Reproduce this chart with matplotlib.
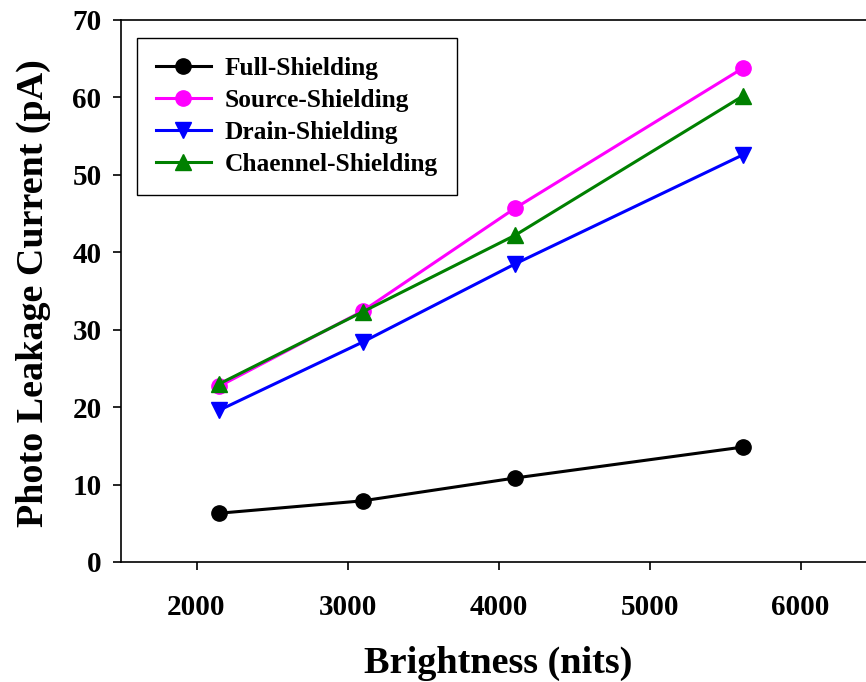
import matplotlib
matplotlib.use("Agg")
import matplotlib.pyplot as plt

plt.rcParams['font.family'] = ['Liberation Serif', 'DejaVu Serif']
plt.rcParams['font.weight'] = 'bold'

brightness = [2150, 3100, 4110, 5620]
full_shielding = [6.3, 7.9, 10.85, 14.85]
source_shielding = [22.7, 32.4, 45.7, 63.8]
drain_shielding = [19.6, 28.4, 38.5, 52.6]
channel_shielding = [23.0, 32.3, 42.2, 60.2]

series = [
    ("Full-Shielding", full_shielding, "black", "o"),
    ("Source-Shielding", source_shielding, "#ff00ff", "o"),
    ("Drain-Shielding", drain_shielding, "blue", "v"),
    ("Chaennel-Shielding", channel_shielding, "green", "^"),
]

W, H = 866, 682
fig = plt.figure(figsize=(W / 100, H / 100), dpi=100)
ax = fig.add_axes([121 / W, (H - 562) / H, 755 / W, 542 / H])

for label, vals, color, marker in series:
    ax.plot(brightness, vals, color=color, marker=marker, markersize=11,
            linewidth=2.2, label=label)

ax.set_xlim(1500, 6500)
ax.set_ylim(0, 70)
ax.set_xticks([2000, 3000, 4000, 5000, 6000])
ax.set_yticks(range(0, 71, 10))
ax.tick_params(direction='out', length=6, width=1.2, labelsize=21, pad=8)
for lbl in ax.get_xticklabels() + ax.get_yticklabels():
    lbl.set_fontweight('bold')
ax.tick_params(axis='x', pad=17)
for sp in ax.spines.values():
    sp.set_linewidth(1.2)

ax.set_xlabel("Brightness (nits)", fontsize=27.5, fontweight='bold', labelpad=18)
ax.set_ylabel("Photo Leakage Current (pA)", fontsize=27.4, fontweight='bold')
ax.yaxis.set_label_coords(-70 / 755, 0.497)

leg = ax.legend(loc='upper left', bbox_to_anchor=(16 / 755, 1 - 18 / 542),
                borderaxespad=0,
                fancybox=False, framealpha=1, edgecolor='black',
                prop={'size': 18.3, 'weight': 'bold'}, handlelength=2.15,
                borderpad=0.75, labelspacing=0.35, handletextpad=0.55)
leg.get_frame().set_linewidth(1.0)

fig.savefig("out.png", dpi=100)
